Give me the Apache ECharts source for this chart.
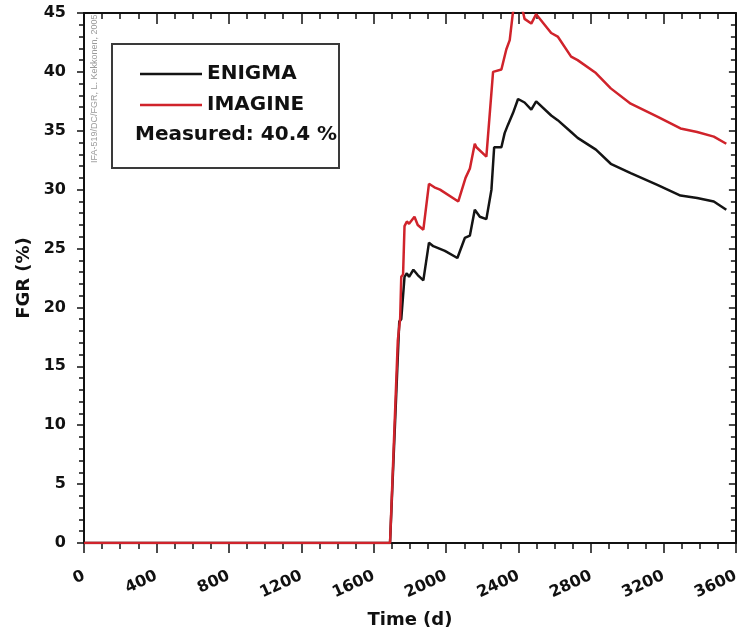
<!DOCTYPE html>
<html>
<head>
<meta charset="utf-8">
<script src="https://cdn.jsdelivr.net/npm/echarts@6/dist/echarts.min.js"></script>
<style>
html,body{margin:0;padding:0;background:#fff;}
#chart{width:742px;height:639px;}
</style>
</head>
<body>
<div id="chart"></div>
<script>
// Tick labels
var xTicks = [0, 400, 800, 1200, 1600, 2000, 2400, 2800, 3200, 3600];
var yTicks = [0, 5, 10, 15, 20, 25, 30, 35, 40, 45];

// ENIGMA (black)
var enigmaTime = [0, 1690, 1741, 1752, 1770, 1783, 1795, 1819, 1843, 1874, 1884, 1905, 1929, 1993, 2062, 2103, 2131, 2158, 2186, 2222, 2250, 2265, 2305, 2323, 2341, 2369, 2397, 2433, 2470, 2497, 2580, 2616, 2690, 2726, 2827, 2909, 3019, 3166, 3294, 3386, 3478, 3547];
var enigmaFGR  = [0, 0, 18.8, 19.0, 22.6, 22.9, 22.6, 23.2, 22.75, 22.3, 22.3, 25.5, 25.2, 24.8, 24.2, 25.9, 26.1, 28.3, 27.7, 27.5, 30.0, 33.6, 33.6, 34.8, 35.5, 36.5, 37.7, 37.4, 36.8, 37.5, 36.3, 35.9, 34.9, 34.4, 33.4, 32.2, 31.4, 30.4, 29.5, 29.3, 29.0, 28.3];

// IMAGINE (red)
var imagineTime = [0, 1690, 1733, 1746, 1752, 1762, 1770, 1783, 1795, 1825, 1843, 1874, 1884, 1905, 1935, 1966, 2067, 2107, 2131, 2158, 2167, 2222, 2259, 2265, 2305, 2332, 2351, 2369, 2395, 2424, 2433, 2470, 2497, 2580, 2616, 2690, 2726, 2827, 2909, 3019, 3166, 3294, 3386, 3478, 3547];
var imagineFGR  = [0, 0, 17.2, 19.1, 22.6, 22.8, 26.9, 27.3, 27.1, 27.7, 27.0, 26.6, 26.6, 30.5, 30.2, 30.0, 29.0, 31.0, 31.8, 33.9, 33.6, 32.8, 40.0, 40.1, 40.2, 41.9, 42.7, 45.1, 45.8, 45.1, 44.5, 44.1, 44.9, 43.3, 43.0, 41.3, 41.0, 39.9, 38.6, 37.3, 36.2, 35.2, 34.9, 34.5, 33.9];

var seriesNames = ['ENIGMA', 'IMAGINE'];
var measuredText = 'Measured: 40.4 %';
var watermark = 'IFA-519/DC/FGR, L. Kekkonen, 2005';

function pairs(xs, ys) { return xs.map(function (x, i) { return [x, ys[i]]; }); }

var FONT = 'DejaVu Sans';
var AX = '#111';

var chart = echarts.init(document.getElementById('chart'), null, {renderer: 'canvas'});
chart.setOption({
  animation: false,
  backgroundColor: '#fff',
  grid: {left: 84, right: 3, top: 13, bottom: 96, containLabel: false},
  legend: {
    data: seriesNames,
    orient: 'vertical',
    left: 135, top: 58,
    icon: 'rect',
    itemWidth: 62, itemHeight: 2.5,
    itemGap: 9,
    textStyle: {fontFamily: FONT, fontWeight: 'bold', fontSize: 20, color: '#111', lineHeight: 22}
  },
  xAxis: [{
    type: 'value', position: 'bottom',
    min: xTicks[0], max: xTicks[xTicks.length - 1], interval: 400,
    axisLine: {show: true, onZero: false, lineStyle: {color: AX, width: 2}},
    axisTick: {show: true, length: 10, lineStyle: {color: AX, width: 1.5}},
    minorTick: {show: true, splitNumber: 4, length: 6, lineStyle: {color: AX, width: 1.5}},
    splitLine: {show: false},
    axisLabel: {rotate: 25, margin: 32, fontFamily: FONT, fontWeight: 'bold', fontSize: 16, color: '#111',
      formatter: function (v) { return xTicks.indexOf(v) >= 0 ? String(v) : ''; }},
    name: 'Time (d)', nameLocation: 'middle', nameGap: 68,
    nameTextStyle: {fontFamily: FONT, fontWeight: 'bold', fontSize: 18, color: '#111'}
  }, {
    type: 'value', position: 'top',
    min: xTicks[0], max: xTicks[xTicks.length - 1], interval: 400,
    axisLine: {show: true, onZero: false, lineStyle: {color: AX, width: 2}},
    axisTick: {show: true, inside: true, length: 11, lineStyle: {color: AX, width: 1.5}},
    minorTick: {show: true, splitNumber: 4, length: 6, lineStyle: {color: AX, width: 1.5}},
    splitLine: {show: false},
    axisLabel: {show: false}
  }],
  yAxis: [{
    type: 'value', position: 'left',
    min: yTicks[0], max: yTicks[yTicks.length - 1], interval: 5,
    axisLine: {show: true, onZero: false, lineStyle: {color: AX, width: 2}},
    axisTick: {show: true, length: 7, lineStyle: {color: AX, width: 1.5}},
    minorTick: {show: true, splitNumber: 5, length: 5, lineStyle: {color: AX, width: 1.5}},
    splitLine: {show: false},
    axisLabel: {margin: 18, fontFamily: FONT, fontWeight: 'bold', fontSize: 16, color: '#111',
      formatter: function (v) { return yTicks.indexOf(v) >= 0 ? String(v) : ''; }},
    name: 'FGR (%)', nameLocation: 'middle', nameGap: 38,
    nameTextStyle: {fontFamily: FONT, fontWeight: 'bold', fontSize: 18, color: '#111'}
  }, {
    type: 'value', position: 'right',
    min: yTicks[0], max: yTicks[yTicks.length - 1], interval: 5,
    axisLine: {show: true, onZero: false, lineStyle: {color: AX, width: 2}},
    axisTick: {show: true, inside: true, length: 7, lineStyle: {color: AX, width: 1.5}},
    minorTick: {show: true, splitNumber: 5, length: 5, lineStyle: {color: AX, width: 1.5}},
    splitLine: {show: false},
    axisLabel: {show: false}
  }],
  series: [{
    name: seriesNames[0], type: 'line', xAxisIndex: 0, yAxisIndex: 0,
    data: pairs(enigmaTime, enigmaFGR),
    showSymbol: false, symbol: 'none',
    lineStyle: {color: '#141414', width: 2.5},
    itemStyle: {color: '#141414'},
    clip: true, z: 3
  }, {
    name: seriesNames[1], type: 'line', xAxisIndex: 0, yAxisIndex: 0,
    data: pairs(imagineTime, imagineFGR),
    showSymbol: false, symbol: 'none',
    lineStyle: {color: '#d0232b', width: 2.5},
    itemStyle: {color: '#d0232b'},
    clip: true, z: 4
  }],
  graphic: [{
    type: 'rect', left: 111, top: 43, z: 1,
    shape: {x: 0, y: 0, width: 227, height: 124},
    style: {fill: '#fff', stroke: '#3a3a3a', lineWidth: 2}
  }, {
    type: 'text', x: 135, y: 135, z: 5,
    style: {text: measuredText, fill: '#111', font: 'bold 20px "DejaVu Sans"', verticalAlign: 'middle', align: 'left'}
  }, {
    type: 'text', x: 95, y: 163, rotation: Math.PI / 2, z: 0,
    style: {text: watermark, fill: '#9a9a9a', font: '9px "Liberation Sans"', verticalAlign: 'middle', align: 'left'}
  }]
});
</script>
</body>
</html>
